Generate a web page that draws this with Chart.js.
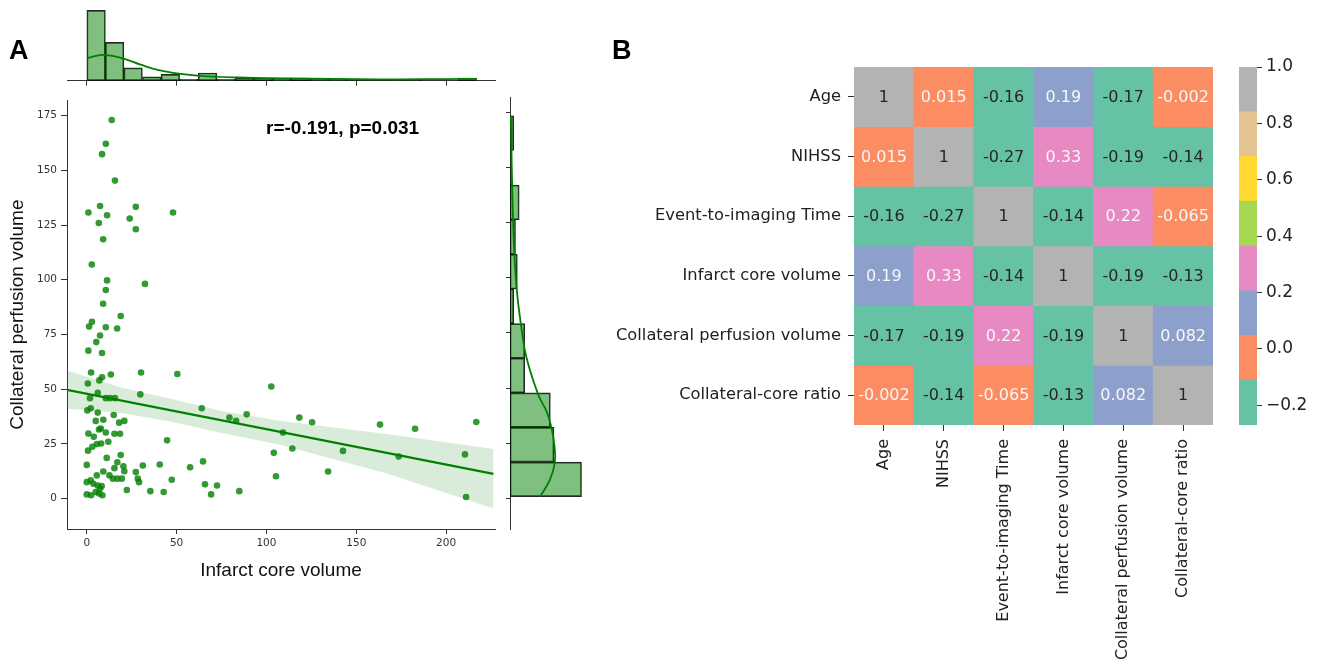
<!DOCTYPE html>
<html>
<head>
<meta charset="utf-8">
<script src="https://cdn.jsdelivr.net/npm/chart.js@4.4.0/dist/chart.umd.min.js"></script>
<style>
body { margin: 0; background: #fff; }
#wrap { position: relative; width: 1318px; height: 669px; overflow: hidden; }
canvas { position: absolute; }
.lbl { position: absolute; font-family: "Liberation Sans", Arial, sans-serif; font-weight: bold; color: #000; white-space: nowrap; }
</style>
</head>
<body>
<div id="wrap">
  <canvas id="topHist" width="500" height="100" style="left:0;top:0"></canvas>
  <canvas id="scatter" width="500" height="510" style="left:0;top:90px"></canvas>
  <canvas id="rightHist" width="100" height="510" style="left:500px;top:90px"></canvas>
  <canvas id="heat" width="620" height="669" style="left:600px;top:0"></canvas>
  <canvas id="cbar" width="98" height="669" style="left:1220px;top:0"></canvas>
  <div class="lbl" style="left:9px;top:37px;font-size:27px;line-height:27px">A</div>
  <div class="lbl" style="left:612px;top:37px;font-size:27px;line-height:27px">B</div>
  <div class="lbl" style="left:266px;top:118px;font-size:19px;line-height:19px">r=-0.191, p=0.031</div>
</div>
<script>
// ---------------- data: panel A ----------------
var infarctCore = [13.9,10.6,8.5,15.7,0.9,7.4,11.3,6.7,27.3,23.9,
  27.3,48.0,9.1,2.8,11.3,10.6,9.1,32.4,18.9,2.9,
  1.3,10.6,16.9,7.4,5.3,0.9,8.5,2.4,13.4,8.5,
  30.2,50.4,0.6,7.0,6.1,29.8,1.8,10.6,13.0,15.7,
  0.3,2.2,6.1,15.0,5.0,9.2,18.0,20.9,7.8,6.8,
  10.6,0.9,3.9,15.4,18.5,8.0,12.0,5.6,3.1,0.7,
  44.7,64.0,79.4,83.1,89.0,18.9,11.1,0.0,17.0,20.4,
  15.4,31.2,40.6,57.5,64.7,9.2,5.6,12.6,20.9,27.3,
  14.5,17.0,19.5,28.4,29.1,47.3,0.0,2.2,3.7,6.1,
  8.3,65.8,72.5,69.2,84.9,22.3,35.4,42.8,0.0,2.4,
  5.0,6.8,8.7,7.4,102.7,118.3,125.4,109.2,163.2,182.7,
  216.8,104.1,114.4,142.6,173.6,210.5,134.3,105.3,211.1];
var collateralPerf = [173.0,162.1,157.4,145.3,130.7,133.7,129.5,125.9,133.3,128.0,
  123.1,130.7,118.5,107.0,99.7,95.3,89.0,98.1,83.4,80.8,
  78.6,78.3,77.7,74.5,71.5,67.6,66.5,57.6,56.7,55.4,
  57.6,56.9,52.6,54.0,48.3,47.6,45.9,45.9,45.9,45.9,
  40.3,41.3,39.3,38.2,35.5,36.0,34.7,35.5,32.0,31.6,
  30.2,29.7,28.2,29.6,29.6,25.2,26.0,24.9,23.7,21.9,
  26.6,41.3,37.0,35.5,38.5,19.9,18.6,15.4,16.6,14.8,
  13.9,15.1,15.6,14.3,17.0,12.4,10.6,10.6,12.5,12.1,
  9.1,9.1,9.1,9.1,7.5,8.6,7.5,8.3,6.8,6.0,
  5.7,6.5,6.0,1.9,3.4,3.9,3.4,3.0,1.9,1.5,
  3.0,2.3,1.5,4.5,51.2,37.0,34.9,30.2,33.8,31.9,
  35.0,20.9,22.9,21.8,19.2,20.2,12.4,10.2,0.7];

// regression line and its confidence band
var regX = [-11, 226.3];
var regY = [49.7, 11.3];
var bandX = [-11, 20, 45, 75, 108, 167, 226.3];
var bandLow = [41.0, 39.0, 35.5, 30.0, 24.5, 11.5, -4.5];
var bandHigh = [58.5, 50.5, 46.0, 40.0, 35.5, 29.5, 22.7];

// marginal histograms (counts) and kde curves
var topBinCenters = [5.2,15.5,25.8,36.2,46.5,56.8,67.2,77.5,87.8,98.2,108.5,118.8,129.2,139.5,149.8,160.2,170.5,180.8,191.2,201.5,211.8];
var topCounts = [55,30,10,3,5,1,6,1,2,2,1,2,1,1,1,1,1,1,0,0,2];
var topKdeX = [0,9,20,30,40,50,60,70,85,100,125,150,175,200,217];
var topKdeY = [17.5,20.2,17.5,12.5,8.2,5.8,4.2,3.2,2.5,2.0,1.6,1.2,1.1,1.3,1.5];

var rightBinCenters = [8.6,24.3,40.0,55.7,71.4,87.1,102.8,118.5,134.2,149.9,165.6];
var rightCounts = [39,24,22,8,8,2,4,3,5,1,2];
var rightKdeY = [0.7,8.5,16.6,24.2,31.7,39.3,46.8,63.5,78.6,95.2,110.3,122.4,137.5,152.6,173.5];
var rightKdeX = [16.4,21.8,24.5,24.2,22.7,20.0,15.5,9.1,6.0,3.6,2.4,1.8,1.3,0.9,0.5];

var xTicks = [0, 50, 100, 150, 200];
var yTicks = [0, 25, 50, 75, 100, 125, 150, 175];

// ---------------- data: panel B ----------------
var varNames = ["Age", "NIHSS", "Event-to-imaging Time", "Infarct core volume",
  "Collateral perfusion volume", "Collateral-core ratio"];
var corr = [
  [1, 0.015, -0.16, 0.19, -0.17, -0.002],
  [0.015, 1, -0.27, 0.33, -0.19, -0.14],
  [-0.16, -0.27, 1, -0.14, 0.22, -0.065],
  [0.19, 0.33, -0.14, 1, -0.19, -0.13],
  [-0.17, -0.19, 0.22, -0.19, 1, 0.082],
  [-0.002, -0.14, -0.065, -0.13, 0.082, 1]
];
var set2 = ["#66c2a5", "#fc8d62", "#8da0cb", "#e78ac3", "#a6d854", "#ffd92f", "#e5c494", "#b3b3b3"];
var set2Text = ["#262626", "#f7f7f7", "#f7f7f7", "#f7f7f7", "#262626", "#262626", "#262626", "#262626"];
var cbarBounds = [-0.27, -0.111, 0.048, 0.206, 0.365, 0.524, 0.683, 0.841, 1.0];
var cbarTicks = [-0.2, 0.0, 0.2, 0.4, 0.6, 0.8, 1.0];

// ---------------- shared settings ----------------
Chart.defaults.font.family = '"DejaVu Sans", sans-serif';
Chart.defaults.animation = false;
Chart.defaults.responsive = false;
Chart.defaults.plugins.legend.display = false;
Chart.defaults.plugins.tooltip.enabled = false;

var green = "rgb(0,128,0)";
var axisColor = "#333";
var xMin = -11, xMax = 227.2;
var yMin = -13.9, yMax = 182.0;

function pts(xs, ys) {
  return xs.map(function (x, i) { return { x: x, y: ys[i] }; });
}
function fixedTicks(list) {
  return function (s) { s.ticks = list.map(function (v) { return { value: v }; }); };
}

// ---------------- top marginal histogram ----------------
new Chart(document.getElementById("topHist"), {
  type: "bar",
  data: {
    datasets: [{
      type: "line",
      data: pts(topKdeX, topKdeY),
      borderColor: green, borderWidth: 1.8, pointRadius: 0, tension: 0.4, fill: false, order: 0
    }, {
      data: pts(topBinCenters, topCounts),
      backgroundColor: "rgba(0,128,0,0.5)", borderColor: "rgba(0,0,0,0.85)", borderWidth: 1,
      borderSkipped: false, barPercentage: 1, categoryPercentage: 1, order: 1
    }]
  },
  options: {
    layout: { padding: { left: 67, right: 5, top: 4, bottom: 0 } },
    scales: {
      x: {
        type: "linear", min: xMin, max: xMax, offset: false,
        afterBuildTicks: fixedTicks(xTicks),
        ticks: { display: false },
        grid: { offset: false, drawOnChartArea: false, tickLength: 5, color: axisColor },
        border: { display: true, color: axisColor },
        afterFit: function (s) { s.height = 19.3; }
      },
      y: { display: false, min: 0, max: 60 }
    }
  }
});

// ---------------- scatter with regression ----------------
new Chart(document.getElementById("scatter"), {
  type: "scatter",
  data: {
    datasets: [{
      type: "line",
      data: pts(regX, regY),
      borderColor: green, borderWidth: 2.3, pointRadius: 0, fill: false, order: 0
    }, {
      data: pts(infarctCore, collateralPerf),
      backgroundColor: "rgba(0,128,0,0.8)", borderWidth: 0, pointRadius: 3.3, order: 1
    }, {
      type: "line",
      data: pts(bandX, bandLow),
      borderWidth: 0, pointRadius: 0, fill: false, order: 2
    }, {
      type: "line",
      data: pts(bandX, bandHigh),
      borderWidth: 0, pointRadius: 0, fill: "-1", backgroundColor: "rgba(0,128,0,0.15)", order: 2
    }]
  },
  options: {
    layout: { padding: { left: 0, right: 5, top: 7, bottom: 0 } },
    scales: {
      x: {
        type: "linear", min: xMin, max: xMax,
        afterBuildTicks: fixedTicks(xTicks),
        ticks: { color: axisColor, padding: 3, font: { size: 10.5 } },
        grid: { drawOnChartArea: false, tickLength: 5, color: axisColor },
        border: { display: true, color: axisColor },
        title: {
          display: true, text: "Infarct core volume", color: "#111",
          font: { family: '"Liberation Sans", Arial, sans-serif', size: 19 },
          padding: { top: 4, bottom: 17.6 }
        },
        afterFit: function (s) { s.height = 71; }
      },
      y: {
        type: "linear", min: yMin, max: yMax,
        afterBuildTicks: fixedTicks(yTicks),
        ticks: { color: axisColor, padding: 4, font: { size: 10.5 } },
        grid: { drawOnChartArea: false, tickLength: 6, color: axisColor },
        border: { display: true, color: axisColor },
        title: {
          display: true, text: "Collateral perfusion volume", color: "#111",
          font: { family: '"Liberation Sans", Arial, sans-serif', size: 19 },
          padding: { top: 6.6, bottom: 0 }
        },
        afterFit: function (s) { s.width = 67; }
      }
    }
  }
});

// ---------------- right marginal histogram ----------------
new Chart(document.getElementById("rightHist"), {
  type: "bar",
  data: {
    datasets: [{
      type: "line",
      data: pts(rightKdeX, rightKdeY),
      borderColor: green, borderWidth: 1.8, pointRadius: 0, tension: 0.4, fill: false, order: 0
    }, {
      data: pts(rightCounts, rightBinCenters),
      backgroundColor: "rgba(0,128,0,0.5)", borderColor: "rgba(0,0,0,0.85)", borderWidth: 1,
      borderSkipped: false, barPercentage: 1, categoryPercentage: 1, order: 1
    }]
  },
  options: {
    indexAxis: "y",
    layout: { padding: { left: 0, right: 7.5, top: 7, bottom: 71 } },
    scales: {
      y: {
        type: "linear", min: yMin, max: yMax, offset: false,
        afterBuildTicks: fixedTicks(yTicks),
        ticks: { display: false },
        grid: { offset: false, drawOnChartArea: false, tickLength: 4, color: axisColor },
        border: { display: true, color: axisColor },
        afterFit: function (s) { s.width = 10; }
      },
      x: { type: "linear", display: false, min: 0, max: 45 }
    }
  }
});

// ---------------- heatmap ----------------
function colorIndex(v) {
  var lo = cbarBounds[0], hi = cbarBounds[cbarBounds.length - 1];
  return Math.max(0, Math.min(set2.length - 1, Math.floor((v - lo) / (hi - lo) * set2.length)));
}

var cellText = {
  id: "cellText",
  afterDatasetsDraw: function (chart) {
    var ctx = chart.ctx;
    ctx.save();
    ctx.font = '16px "DejaVu Sans"';
    ctx.textAlign = "center";
    ctx.textBaseline = "middle";
    chart.data.datasets.forEach(function (ds, r) {
      chart.getDatasetMeta(r).data.forEach(function (bar, c) {
        var v = corr[r][c];
        ctx.fillStyle = set2Text[colorIndex(v)];
        ctx.fillText(String(v), bar.x, (bar.y + bar.base) / 2 + 1);
      });
    });
    ctx.restore();
  }
};

var nRows = varNames.length;
new Chart(document.getElementById("heat"), {
  type: "bar",
  data: {
    labels: varNames,
    datasets: corr.map(function (row, r) {
      return {
        data: row.map(function () { return [nRows - 1 - r, nRows - r]; }),
        backgroundColor: row.map(function (v) { return set2[colorIndex(v)]; }),
        borderWidth: 0, barPercentage: 1, categoryPercentage: 1
      };
    })
  },
  options: {
    layout: { padding: { left: 0, right: 7, top: 67, bottom: 0 } },
    scales: {
      x: {
        stacked: true,
        ticks: { minRotation: 90, maxRotation: 90, autoSkip: false, padding: 8, color: "#222", font: { size: 16 } },
        grid: { offset: false, drawOnChartArea: false, tickLength: 6, color: axisColor },
        border: { display: false },
        afterFit: function (s) { s.height = 244; }
      },
      y: {
        type: "linear", min: 0, max: nRows,
        afterBuildTicks: function (s) {
          s.ticks = varNames.map(function (n, i) { return { value: i + 0.5 }; });
        },
        ticks: {
          padding: 7, color: "#222", font: { size: 16.3 },
          callback: function (v) { return varNames[nRows - 1 - Math.floor(v)]; }
        },
        grid: { drawOnChartArea: false, tickLength: 6, color: axisColor },
        border: { display: false },
        afterFit: function (s) { s.width = 254; }
      }
    }
  },
  plugins: [cellText]
});

// ---------------- colour bar ----------------
new Chart(document.getElementById("cbar"), {
  type: "bar",
  data: {
    labels: [""],
    datasets: set2.map(function (c, i) {
      return {
        data: [[cbarBounds[i], cbarBounds[i + 1]]],
        backgroundColor: c, borderWidth: 0, barPercentage: 1, categoryPercentage: 1
      };
    })
  },
  options: {
    layout: { padding: { left: 19, right: 0, top: 67, bottom: 244 } },
    scales: {
      x: { stacked: true, display: false },
      y: {
        position: "right", min: cbarBounds[0], max: cbarBounds[cbarBounds.length - 1],
        afterBuildTicks: fixedTicks(cbarTicks),
        ticks: {
          padding: 4, color: "#222", font: { size: 17 },
          callback: function (v) {
            var s = Math.abs(v).toFixed(1);
            return v < -1e-9 ? "\u2212" + s : s;
          }
        },
        grid: { drawOnChartArea: false, tickLength: 5, color: axisColor },
        border: { display: false },
        afterFit: function (s) { s.width = 61; }
      }
    }
  }
});
</script>
</body>
</html>
